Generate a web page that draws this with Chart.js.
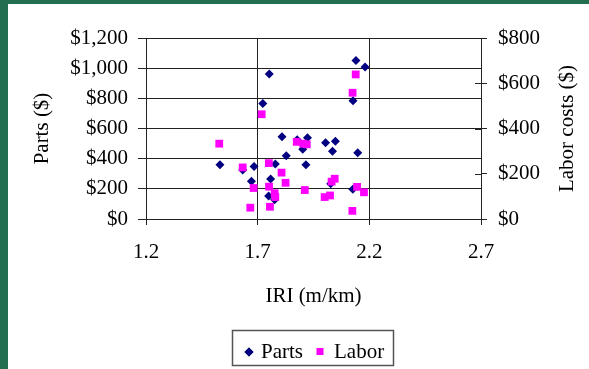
<!DOCTYPE html>
<html>
<head>
<meta charset="utf-8">
<script src="https://cdn.jsdelivr.net/npm/chart.js@4.4.0/dist/chart.umd.min.js"></script>
<style>
  html, body { margin: 0; padding: 0; }
  body { width: 589px; height: 369px; background: #236d50; position: relative; overflow: hidden; }
  #sheet { position: absolute; left: 8px; top: 4px; width: 581px; height: 365px; background: #fff; }
  canvas { position: absolute; left: 0; top: 0; }
</style>
</head>
<body>
<div id="sheet"><canvas id="c" width="581" height="365"></canvas></div>
<script>
// parts cost per section
var partsIri = [1.531, 1.633, 1.672, 1.684, 1.723, 1.752, 1.749, 1.758, 1.779, 1.776, 1.809, 1.828, 1.877,
                1.902, 1.916, 1.923, 2.004, 2.027, 2.035, 2.048, 2.126, 2.127, 2.140, 2.148, 2.181];
var partsCost = [359, 325, 250, 348, 766, 961, 152, 266, 365, 128, 545, 419, 525,
                 463, 359, 538, 505, 234, 449, 515, 198, 784, 1051, 439, 1007];
// labor cost per section
var laborIri = [1.528, 1.633, 1.667, 1.682, 1.718, 1.750, 1.751, 1.755, 1.776, 1.779, 1.807, 1.825, 1.875,
                1.904, 1.920, 1.911, 2.000, 2.024, 2.031, 2.045, 2.125, 2.139, 2.145, 2.176, 2.124];
var laborCost = [333, 228, 50, 137, 463, 247, 143, 54, 114, 97, 205, 160, 341,
                 333, 330, 128, 97, 104, 165, 178, 558, 639, 142, 118, 36];

var xTicks = [1.2, 1.7, 2.2, 2.7];
var partsTicks = [0, 200, 400, 600, 800, 1000, 1200];
var laborTicks = [0, 200, 400, 600, 800];

function points(xs, ys) {
    var out = [];
    for (var i = 0; i < xs.length; i++) out.push({ x: xs[i], y: ys[i] });
    return out;
}
function dollars(v) { return '$' + Number(v).toLocaleString('en-US'); }
function setTicks(list) {
    return function (scale) { scale.ticks = list.map(function (v) { return { value: v }; }); };
}

Chart.defaults.font.family = "'Liberation Serif', 'Times New Roman', serif";
Chart.defaults.font.size = 21;
Chart.defaults.color = '#000';

var navy = '#000080', pink = '#ff00ff', lineCol = '#222';

var extras = {
    id: 'extras',
    afterDraw: function (chart) {
        var ctx = chart.ctx, area = chart.chartArea;
        var lab = chart.scales.yLabor;
        ctx.save();
        // right axis ticks cross the axis line
        ctx.strokeStyle = lineCol;
        ctx.lineWidth = 1;
        lab.ticks.forEach(function (t) {
            var y = Math.round(lab.getPixelForValue(t.value)) + 0.5;
            ctx.beginPath();
            ctx.moveTo(area.right - 6, y);
            ctx.lineTo(area.right, y);
            ctx.stroke();
        });
        // right title reads upward
        ctx.fillStyle = '#000';
        ctx.font = "21px 'Liberation Serif', 'Times New Roman', serif";
        ctx.textAlign = 'center';
        ctx.textBaseline = 'middle';
        ctx.translate(559, (area.top + area.bottom) / 2);
        ctx.rotate(-Math.PI / 2);
        ctx.fillText('Labor costs ($)', 0, 0);
        ctx.restore();

        // legend box
        ctx.save();
        ctx.strokeStyle = '#555';
        ctx.lineWidth = 1.5;
        ctx.strokeRect(224.5, 326.5, 161, 35);
        Chart.helpers.drawPoint(ctx, { pointStyle: 'rectRot', radius: 4.5, borderWidth: 0 }, 241, 348);
        ctx.fillStyle = navy;
        ctx.fill();
        ctx.fillStyle = pink;
        ctx.fillRect(308.5, 344, 7, 7);
        ctx.fillStyle = '#000';
        ctx.font = "21px 'Liberation Serif', 'Times New Roman', serif";
        ctx.textAlign = 'left';
        ctx.textBaseline = 'middle';
        ctx.fillText('Parts', 253, 348);
        ctx.fillText('Labor', 326, 348);
        ctx.restore();
    }
};

new Chart(document.getElementById('c'), {
    type: 'scatter',
    data: {
        datasets: [{
            label: 'Parts',
            data: points(partsIri, partsCost),
            yAxisID: 'yParts',
            pointStyle: 'rectRot',
            pointRadius: 4.5,
            pointBorderWidth: 0,
            backgroundColor: navy,
            borderColor: navy,
            order: 1
        }, {
            label: 'Labor',
            data: points(laborIri, laborCost),
            yAxisID: 'yLabor',
            pointStyle: 'rect',
            pointRadius: 5.5,
            pointBorderWidth: 0,
            backgroundColor: pink,
            borderColor: pink,
            order: 0
        }]
    },
    options: {
        responsive: false,
        animation: false,
        devicePixelRatio: 1,
        layout: { padding: { top: 34, left: 0, right: 0, bottom: 0 } },
        plugins: { legend: { display: false }, tooltip: { enabled: false } },
        scales: {
            x: {
                type: 'linear',
                min: 1.2,
                max: 2.7,
                afterBuildTicks: setTicks(xTicks),
                afterFit: function (s) { s.height = 150; },
                ticks: { padding: 15, callback: function (v) { return Number(v).toFixed(1); } },
                grid: { color: lineCol, tickLength: 6, drawOnChartArea: true },
                border: { color: lineCol },
                title: { display: true, text: 'IRI (m/km)', padding: { top: 0, bottom: 60 } }
            },
            yParts: {
                type: 'linear',
                position: 'left',
                min: 0,
                max: 1200,
                afterBuildTicks: setTicks(partsTicks),
                afterFit: function (s) { s.width = 138; },
                ticks: { padding: 10, callback: dollars },
                grid: { color: lineCol, tickLength: 8 },
                border: { color: lineCol },
                title: { display: true, text: 'Parts ($)', padding: { top: 22, bottom: 0 } }
            },
            yLabor: {
                type: 'linear',
                position: 'right',
                min: 0,
                max: 800,
                afterBuildTicks: setTicks(laborTicks),
                afterFit: function (s) { s.width = 108; },
                ticks: { padding: 11, callback: dollars },
                grid: { color: lineCol, tickLength: 6, drawOnChartArea: false },
                border: { color: lineCol }
            }
        }
    },
    plugins: [extras]
});
</script>
</body>
</html>
